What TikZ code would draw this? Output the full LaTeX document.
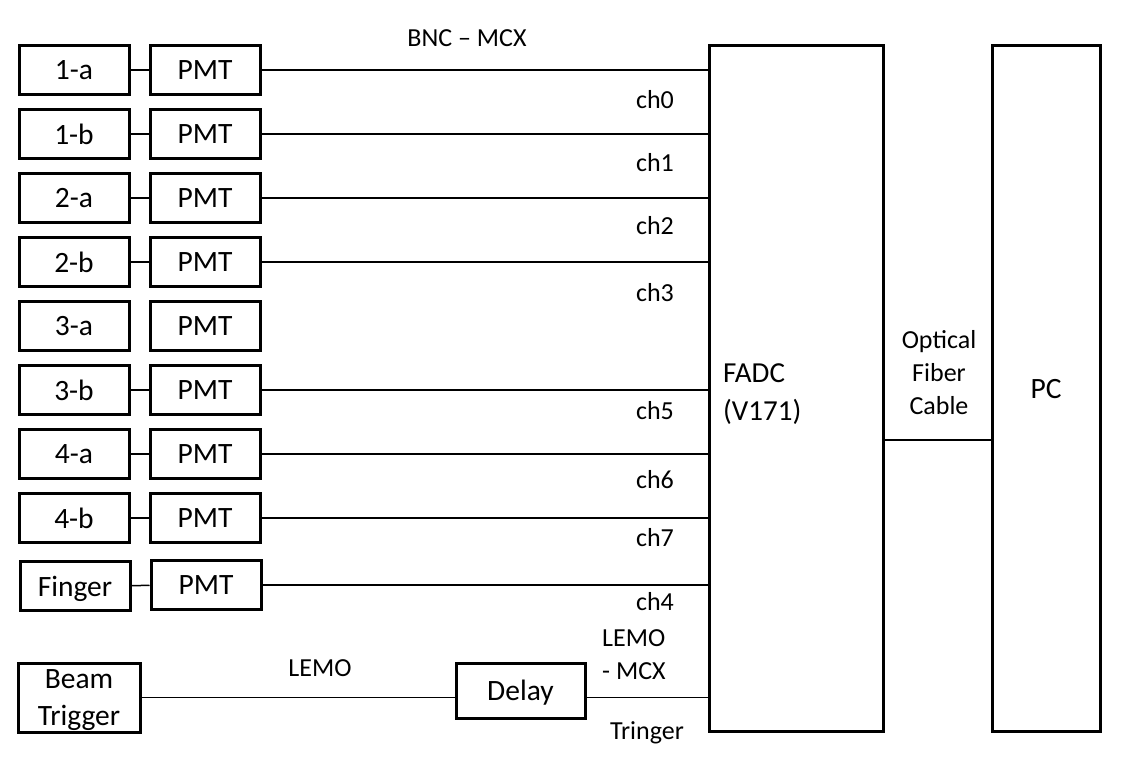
\documentclass[tikz,border=0pt]{standalone}
\usepackage{fontspec}
\setmainfont{Carlito}
\begin{document}
\begin{tikzpicture}[x=1pt,y=-1pt,
  box/.style={draw,line width=3pt,rectangle,inner sep=0pt,minimum width=110pt,minimum height=49pt,text depth=0pt,font=\fontsize{29.5}{37}\selectfont},
  lbl/.style={inner sep=0pt,font=\fontsize{26}{33}\selectfont},
  wire/.style={line width=1.5pt}]
\useasboundingbox (0,0) rectangle (1133,767);
% left column
\foreach \n/\t/\y in {1/1-a/70,2/1-b/134,3/2-a/198,4/2-b/262,5/3-a/326,6/3-b/390,7/4-a/454,8/4-b/518}{
  \node[box] (l\n) at (74,\y) {\t};
  \node[box] (p\n) at (205,\y) {PMT};
}
\node[box] (l9) at (75,586) {Finger};
\node[box] (p9) at (206,585) {PMT};
% FADC and PC
\node[box,minimum width=174pt,minimum height=685pt] (fadc) at (796,388.5) {};
\node[box,minimum width=108pt,minimum height=685pt] (pc) at (1046,388.5) {PC};
\node[anchor=west,align=left,inner sep=0pt,font=\fontsize{29}{38}\selectfont] (fadctxt) at (723,394) {FADC\\(V171)};
% beam trigger and delay
\node[box,minimum width=122pt,minimum height=69pt,align=center] (bt) at (79,697.5) {Beam\\Trigger};
\node[box,minimum width=129pt,minimum height=55pt] (delay) at (520.5,690.5) {Delay};
% connectors
\foreach \n in {1,2,3,4,6,7,8,9}{
  \draw[wire] (l\n) -- (p\n);
  \draw[wire] (p\n.east) -- (p\n.east -| fadc.west);
}
\coordinate (btw) at (bt.east);
\draw[wire] (bt.east) -- (btw -| delay.west);
\draw[wire] (btw -| delay.east) -- (btw -| fadc.west);
\coordinate (of) at (0,440);
\draw[wire] (of -| fadc.east) -- (of -| pc.west);
% labels
\node[lbl] (bnc) at (467,38) {BNC -- MCX};
\foreach \t/\y in {ch0/100,ch1/163,ch2/226,ch3/293,ch5/411,ch6/480,ch7/538,ch4/602}{
  \node[lbl] (\t) at (655,\y) {\t};
}
\node[lbl] (lemo) at (320,668) {LEMO};
\node[lbl,anchor=west,align=left] (lemomcx) at (602,655) {LEMO\\- MCX};
\node[lbl] (tring) at (647,733) {Tringer};
\node[lbl,align=center] (ofc) at (939,373) {Optical\\Fiber\\Cable};
\end{tikzpicture}
\end{document}
